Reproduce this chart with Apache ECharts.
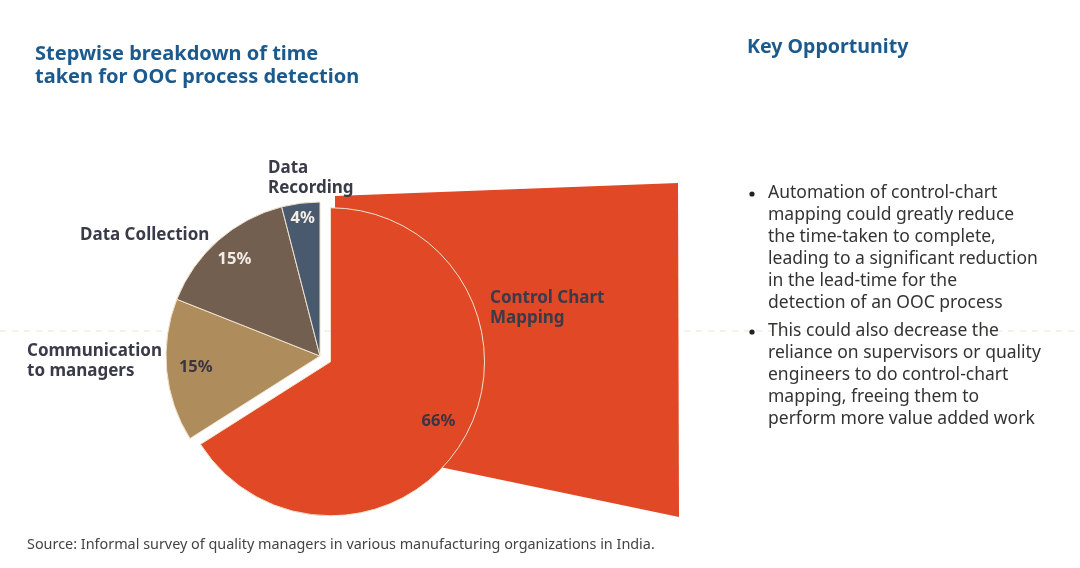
<!DOCTYPE html>
<html><head><meta charset="utf-8">
<script src="https://cdn.jsdelivr.net/npm/echarts@6/dist/echarts.min.js"></script>
<style>html,body{margin:0;padding:0;background:#fff}#c{width:1080px;height:568px}</style>
</head><body><div id="c"></div>
<script>
// ---- data ----
const categories = ['Control Chart Mapping', 'Communication to managers', 'Data Collection', 'Data Recording'];
const categoryLabels = ['Control Chart\nMapping', 'Communication\nto managers', 'Data Collection', 'Data\nRecording'];
const shares = [66, 15, 15, 4];
const titleText = 'Stepwise breakdown of time\ntaken for OOC process detection';
const sideTitle = 'Key Opportunity';
const bullet1 = 'Automation of control-chart\nmapping could greatly reduce\nthe time-taken to complete,\nleading to a significant reduction\nin the lead-time for the\ndetection of an OOC process';
const bullet2 = 'This could also decrease the\nreliance on supervisors or quality\nengineers to do control-chart\nmapping, freeing them to\nperform more value added work';
const sourceText = 'Source: Informal survey of quality managers in various manufacturing organizations in India.';

// ---- styles ----
const colors = ['#E04826', '#AE8C5C', '#735F50', '#4A5A6E'];
const pctColors = ['#3a3443', '#3a3443', '#f2ede6', '#f2ede6'];
const CX = 320, CY = 356, R = 154, OFF = 12;
const FONT = 'Noto Sans';
const EXPLODE = 0; // index of exploded slice
const namePos = [
  {x: 490, y: 308, align: 'left'},
  {x: 27, y: 361, align: 'left'},
  {x: 80, y: 235, align: 'left'},
  {x: 268, y: 178, align: 'left'}
];
const pctRadius = [0.8, 0.81, 0.84, 0.9];

const total = shares.reduce((a, b) => a + b, 0);
function midAngle(i) {
  let cum = 0; for (let k = 0; k < i; k++) cum += shares[k];
  return (90 - (cum + shares[i] / 2) / total * 360) * Math.PI / 180;
}
const ex = CX + Math.cos(midAngle(EXPLODE)) * OFF;
const ey = CY - Math.sin(midAngle(EXPLODE)) * OFF;
const clear = 'rgba(0,0,0,0)';

function pieData(showIdx) {
  return categories.map((n, i) => {
    const on = showIdx(i);
    return {
      name: n, value: shares[i],
      itemStyle: on ? {color: colors[i], borderColor: '#efe3cf', borderWidth: 1} : {color: clear, borderWidth: 0},
      label: {show: on, color: pctColors[i]}
    };
  });
}
function pctLayout(cx, cy) {
  return function (p) {
    const i = p.dataIndex, a = midAngle(i), d = pctRadius[i] * R;
    return {x: cx + Math.cos(a) * d, y: cy - Math.sin(a) * d, align: 'center', verticalAlign: 'middle'};
  };
}
const pctLabel = {position: 'inside', formatter: '{c}%', fontFamily: FONT, fontSize: 16.5, fontWeight: 'bold'};

const chart = echarts.init(document.getElementById('c'));
const txt = (s) => s + 'px "' + FONT + '"';

chart.setOption({
  animation: false,
  title: [
    {text: titleText, left: 30, top: 38, textStyle: {fontFamily: FONT, fontSize: 20, fontWeight: 'bold', color: '#1c5a8e', lineHeight: 23}},
    {text: sideTitle, left: 742, top: 32, textStyle: {fontFamily: FONT, fontSize: 19.6, fontWeight: 'bold', color: '#1c5a8e'}}
  ],
  graphic: [
    {type: 'line', z: -2, shape: {x1: 0, y1: 331, x2: 1080, y2: 331}, style: {stroke: '#e6ead0', lineWidth: 1, lineDash: [6, 6]}},
    {type: 'polygon', z: -1, shape: {points: [[335, 196], [678, 183], [679, 517], [435, 466], [335, 362]]}, style: {fill: colors[0]}},
    {type: 'circle', shape: {cx: 752, cy: 194, r: 2.6}, style: {fill: '#222'}},
    {type: 'text', left: 768, top: 182, style: {text: bullet1, font: txt(17.5), fill: '#333', lineHeight: 22}},
    {type: 'circle', shape: {cx: 752, cy: 332, r: 2.6}, style: {fill: '#222'}},
    {type: 'text', left: 768, top: 320, style: {text: bullet2, font: txt(17.5), fill: '#333', lineHeight: 22}},
    {type: 'text', left: 27, top: 538, style: {text: sourceText, font: txt(14.4), fill: '#444'}}
  ],
  series: [
    {
      type: 'pie', center: [CX, CY], radius: [0, R], startAngle: 90, clockwise: true, silent: true,
      label: pctLabel, labelLine: {show: false}, labelLayout: pctLayout(CX, CY),
      data: pieData(i => i !== EXPLODE)
    },
    {
      type: 'pie', center: [ex, ey], radius: [0, R], startAngle: 90, clockwise: true, silent: true,
      label: pctLabel, labelLine: {show: false}, labelLayout: pctLayout(ex, ey),
      data: pieData(i => i === EXPLODE)
    },
    {
      type: 'pie', center: [CX, CY], radius: [0, R], startAngle: 90, clockwise: true, silent: true,
      itemStyle: {color: clear, borderWidth: 0},
      label: {show: true, position: 'outside', overflow: 'none', width: 300, formatter: p => categoryLabels[p.dataIndex], fontFamily: FONT, fontSize: 17, fontWeight: 'bold', color: '#3b3a48', lineHeight: 20},
      labelLine: {show: false},
      labelLayout: function (p) {
        const q = namePos[p.dataIndex];
        return {x: q.x, y: q.y, align: q.align, verticalAlign: 'middle'};
      },
      data: categories.map((n, i) => ({name: n, value: shares[i]}))
    }
  ]
});
</script></body></html>
